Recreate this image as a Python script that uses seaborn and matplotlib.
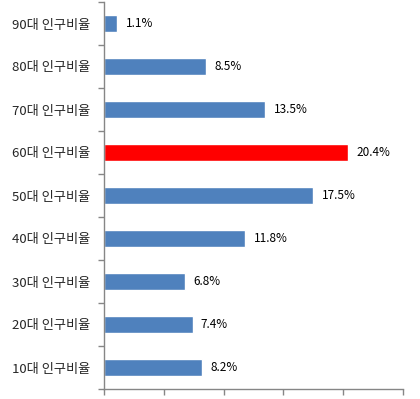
import matplotlib
matplotlib.use("Agg")
import numpy as np
import pandas as pd
import matplotlib.pyplot as plt
import seaborn as sns

# 데이터 (위에서 아래 순서)
categories = ["90대 인구비율", "80대 인구비율", "70대 인구비율", "60대 인구비율",
              "50대 인구비율", "40대 인구비율", "30대 인구비율", "20대 인구비율",
              "10대 인구비율"]
values = [1.1, 8.5, 13.5, 20.4, 17.5, 11.8, 6.8, 7.4, 8.2]
highlight = "60대 인구비율"

df = pd.DataFrame({"cat": categories, "val": values})
palette = ["#FF0000" if c == highlight else "#4F81BD" for c in categories]

sns.set_style("white")
plt.rcParams["font.family"] = ["Noto Sans CJK KR", "DejaVu Sans"]

fig = plt.figure(figsize=(4.2, 3.99), dpi=100)
ax = fig.add_axes([104 / 420, 1 - 389 / 399, 299 / 420, 387 / 399])

sns.barplot(data=df, y="cat", x="val", hue="cat", palette=palette,
            orient="h", width=0.4, legend=False, ax=ax, saturation=1)

ax.set_xlim(0, 25)
ax.set_ylim(len(categories) - 0.5, -0.5)
ax.set_xticks(np.arange(0, 26, 5))
ax.set_xticklabels([])
ax.set_yticks(np.arange(len(categories) + 1) - 0.5, minor=True)
ax.set_yticks(np.arange(len(categories)))
ax.set_yticklabels(categories, fontsize=9.5)
ax.tick_params(axis="y", which="major", left=True, length=0, pad=10)
ax.tick_params(axis="y", which="minor", left=True, length=4, width=1,
               color="#868686", direction="out")
ax.tick_params(axis="x", bottom=True, length=4, width=1, color="#868686",
               direction="out")
ax.set_xlabel("")
ax.set_ylabel("")

for s in ["top", "right"]:
    ax.spines[s].set_visible(False)
for s in ["left", "bottom"]:
    ax.spines[s].set_color("#868686")
    ax.spines[s].set_linewidth(1)

for i, v in enumerate(values):
    ax.text(v + 0.7, i, f"{v}%", va="center", ha="left", fontsize=8.5, color="black")

fig.savefig("out.png", dpi=100)
